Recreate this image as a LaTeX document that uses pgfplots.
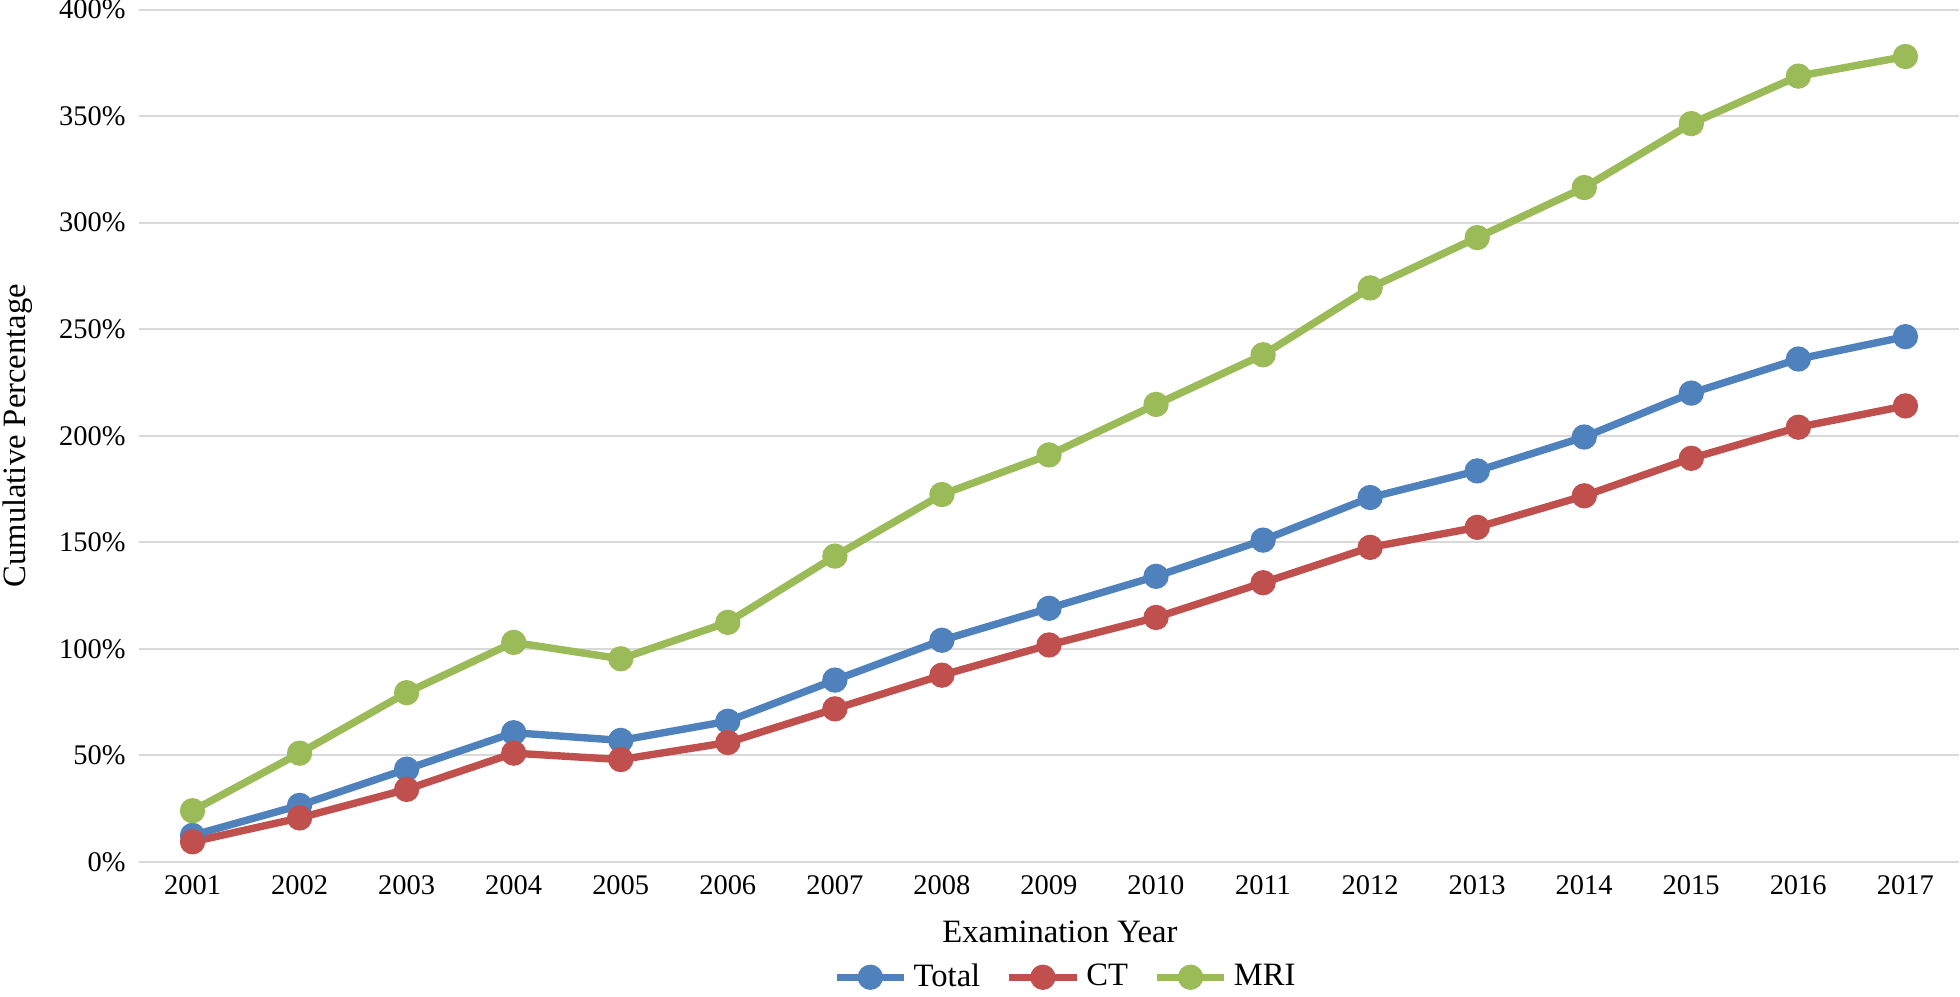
\documentclass[border=0pt]{standalone}
\usepackage{pgfplots}
\pgfplotsset{compat=1.18}
\usepackage{fontspec}
\setmainfont{Liberation Serif}
\definecolor{cTotal}{HTML}{4F81BD}
\definecolor{cCT}{HTML}{C0504D}
\definecolor{cMRI}{HTML}{9BBB59}
\definecolor{gridgray}{HTML}{D9D9D9}
\begin{document}
\begin{tikzpicture}
\begin{axis}[
  scale only axis,
  width=614pt, height=287.5pt,
  xmin=2000.5, xmax=2017.5,
  ymin=0, ymax=400,
  xtick={2001,2002,...,2017},
  ytick={0,50,...,400},
  yticklabel={\pgfmathprintnumber{\tick}\%},
  /pgf/number format/1000 sep={},
  /pgf/number format/assume math mode=true,
  ymajorgrids,
  major grid style={gridgray, line width=0.7pt},
  axis line style={draw=none},
  major tick length=0pt,
  tick label style={font=\fontsize{9.6}{11}\selectfont},
  yticklabel style={xshift=-1pt, inner ysep=0pt},
  xticklabel style={yshift=-1pt},
  xlabel={Examination Year},
  ylabel={Cumulative Percentage},
  label style={font=\fontsize{11}{13}\selectfont},
  xlabel style={at={(axis description cs:0.506,-0.0952)}, anchor=base},
  ylabel style={at={(axis description cs:-0.0666,0.5)}, anchor=center, inner sep=1pt},
  every axis plot/.append style={line width=2.5pt, mark=*, mark size=3pt},
  legend columns=-1,
  legend style={at={(axis description cs:0.51,-0.159)}, anchor=south, draw=none,
    inner sep=0pt, font=\fontsize{11}{13}\selectfont,
    /tikz/every even column/.append style={column sep=6.5pt}},
  legend image code/.code={\draw[mark repeat=2, mark phase=2, #1]
    plot coordinates {(0cm,0cm) (0.4cm,0cm) (0.8cm,0cm)};},
]
\addplot[color=cTotal] coordinates {
  (2001,12.4) (2002,26.5) (2003,43.5) (2004,60.6) (2005,57) (2006,66)
  (2007,85.3) (2008,104) (2009,119) (2010,134) (2011,151) (2012,171)
  (2013,183.5) (2014,199.4) (2015,220) (2016,236) (2017,246.5)
};
\addplot[color=cCT] coordinates {
  (2001,9.4) (2002,20.6) (2003,34) (2004,51) (2005,48) (2006,56)
  (2007,71.8) (2008,87.6) (2009,101.8) (2010,114.7) (2011,131) (2012,147.6)
  (2013,157) (2014,171.8) (2015,189.4) (2016,204) (2017,214)
};
\addplot[color=cMRI] coordinates {
  (2001,24) (2002,51) (2003,79.4) (2004,103) (2005,95.3) (2006,112.4)
  (2007,143.5) (2008,172.4) (2009,191) (2010,214.7) (2011,238) (2012,269.4)
  (2013,293) (2014,316.5) (2015,346.5) (2016,368.8) (2017,378)
};
\legend{Total, CT, MRI}
\end{axis}
\end{tikzpicture}
\end{document}
